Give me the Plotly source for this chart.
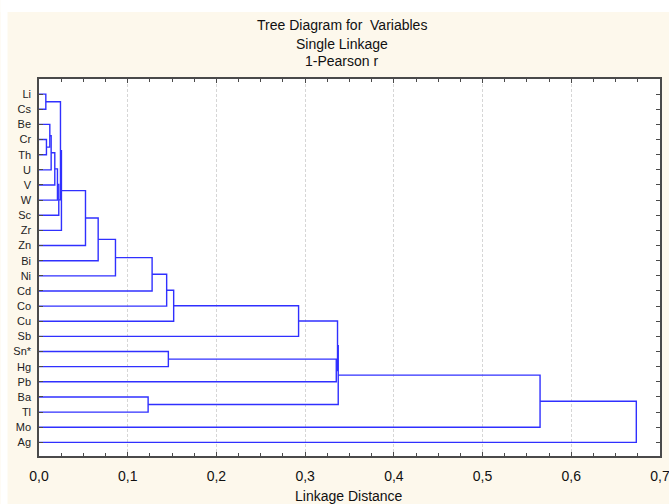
import plotly.graph_objects as go

# ---- data -------------------------------------------------------------
labels = ["Li", "Cs", "Be", "Cr", "Th", "U", "V", "W", "Sc", "Zr", "Zn", "Bi",
          "Ni", "Cd", "Co", "Cu", "Sb", "Sn*", "Hg", "Pb", "Ba", "Tl", "Mo", "Ag"]
# merges: ids < 24 are leaves (index in labels), id 24+k is merge k
merge_left = [0, 3, 2, 26, 27, 28, 29, 24, 31, 32, 33, 34, 20, 35, 37, 17, 38, 40, 39, 41, 43, 44, 45]
merge_right = [1, 4, 25, 5, 6, 7, 8, 30, 9, 10, 11, 12, 21, 13, 14, 18, 15, 16, 19, 42, 36, 22, 23]
merge_height = [0.0077, 0.0084, 0.0122, 0.0137, 0.0178, 0.0208, 0.0223, 0.0242, 0.0253,
                0.0524, 0.0667, 0.0862, 0.1230, 0.1275, 0.1439, 0.1458, 0.1518, 0.2926,
                0.3351, 0.3365, 0.3373, 0.5648, 0.6733]
x_ticks = [0.0, 0.1, 0.2, 0.3, 0.4, 0.5, 0.6, 0.7]

# ---- build dendrogram segments ----------------------------------------
n = len(labels)
pos_y = {i: float(i) for i in range(n)}
pos_h = {i: 0.0 for i in range(n)}
xs, ys = [], []
for k, (a, b, h) in enumerate(zip(merge_left, merge_right, merge_height)):
    ya, yb = pos_y[a], pos_y[b]
    xs += [pos_h[a], h, h, pos_h[b], None]
    ys += [ya, ya, yb, yb, None]
    pos_y[n + k] = (ya + yb) / 2
    pos_h[n + k] = h

fig = go.Figure()
fig.add_trace(go.Scatter(x=xs, y=ys, mode="lines",
                         line=dict(color="#3030ff", width=1.4),
                         hoverinfo="skip", showlegend=False))

FONT = "Liberation Sans, Arial, sans-serif"
cream = "#fdf8ec"

# pixel geometry
W, H = 669, 504
L, R, T, B = 38.5, 660, 79, 456
pw, ph = R - L, B - T

def px_x(x):
    return (x - L) / pw

def px_y(y):
    return (B - y) / ph

for txt, yc in [("Tree Diagram for  Variables", 25), ("Single Linkage", 44), ("1-Pearson r", 61)]:
    fig.add_annotation(text=txt, xref="paper", yref="paper", x=px_x(341.5), y=px_y(yc),
                       xanchor="center", yanchor="middle", showarrow=False,
                       font=dict(family=FONT, size=14, color="#111111"))

fig.add_annotation(text="Linkage Distance", xref="paper", yref="paper", x=px_x(349), y=px_y(496),
                   xanchor="center", yanchor="middle", showarrow=False,
                   font=dict(family=FONT, size=14, color="#111111"))

# white strips outside the cream panel
fig.add_shape(type="rect", xref="paper", yref="paper", x0=px_x(0), x1=px_x(W), y0=px_y(12), y1=px_y(0),
              fillcolor="white", line=dict(width=0), layer="below")
fig.add_shape(type="rect", xref="paper", yref="paper", x0=px_x(0), x1=px_x(7), y0=px_y(H), y1=px_y(0),
              fillcolor="white", line=dict(width=0), layer="below")

fig.update_layout(
    width=W, height=H,
    margin=dict(l=L, r=W - R, t=T, b=H - B, autoexpand=False),
    paper_bgcolor=cream, plot_bgcolor="white",
    separators=",.",
    font=dict(family=FONT, color="#111111"),
    xaxis=dict(range=[0, 0.7], tickvals=x_ticks, tickformat=".1f", automargin=False,
               ticklabeloverflow="allow",
               showgrid=True, gridcolor="#d6d6d6", griddash="3px,2px", gridwidth=1,
               zeroline=False, showline=True, linecolor="#4a4a4a", linewidth=1.5,
               mirror="ticks", ticks="inside", ticklen=4, tickcolor="#4a4a4a",
               minor=dict(dtick=0.025, ticks="inside", ticklen=3, tickcolor="#4a4a4a", showgrid=False),
               tickfont=dict(size=14, family=FONT, color="#111111"),
               ticklabelstandoff=6),
    yaxis=dict(range=[23.9, -1.0], tickvals=list(range(n)), ticktext=labels, automargin=False,
               showgrid=False, zeroline=False, showline=True, linecolor="#4a4a4a", linewidth=1.5,
               mirror="ticks", ticks="inside", ticklen=4, tickcolor="#4a4a4a",
               tickfont=dict(size=11, family=FONT, color="#222222"),
               ticklabelstandoff=4),
)

fig.write_html("out.html")
